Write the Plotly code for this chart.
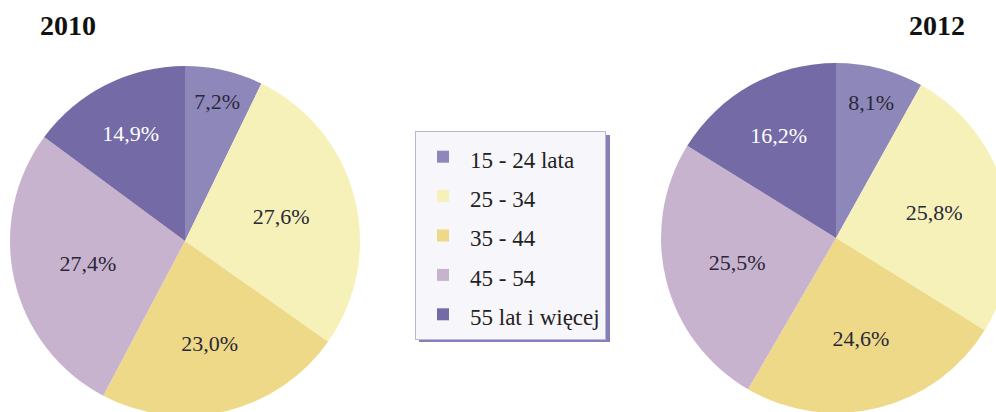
import plotly.graph_objects as go

categories = ["15 - 24 lata", "25 - 34", "35 - 44", "45 - 54", "55 lat i więcej"]
values_2010 = [7.2, 27.6, 23.0, 27.4, 14.9]
values_2012 = [8.1, 25.8, 24.6, 25.5, 16.2]
years = ["2010", "2012"]

colors = ["#8E88BA", "#F6F1B9", "#EDD987", "#C8B3CE", "#736AA6"]
text_colors = ["#2A2838", "#2A2838", "#2A2838", "#2A2838", "#FFFFFF"]

SERIF = "Liberation Serif, Times New Roman, serif"
W, H = 1012, 416


def fmt(v):
    return f"{v:.1f}".replace(".", ",") + "%"


def px_x(x):
    return x / W


def px_y(y):
    return 1 - y / H


fig = go.Figure()

domains = [
    dict(x=[px_x(10), px_x(360)], y=[px_y(416), px_y(66)]),
    dict(x=[px_x(661), px_x(1011)], y=[px_y(413), px_y(63)]),
]

for i, vals in enumerate([values_2010, values_2012]):
    fig.add_trace(go.Pie(
        labels=[f"<span style='font-size:23px'>{c}</span>" for c in categories],
        values=vals,
        text=[fmt(v) for v in vals],
        textinfo="text",
        textposition="inside",
        insidetextorientation="horizontal",
        textfont=dict(family=SERIF, size=22),
        insidetextfont=dict(family=SERIF, size=22, color=text_colors),
        marker=dict(colors=colors, line=dict(width=0)),
        sort=False,
        direction="clockwise",
        rotation=0,
        domain=domains[i],
        showlegend=(i == 0),
        hoverinfo="label+percent",
    ))

for yr, xc in zip(years, [68, 937]):
    fig.add_annotation(x=px_x(xc), y=px_y(25), xref="paper", yref="paper",
                       text=f"<b>{yr}</b>", showarrow=False,
                       font=dict(family=SERIF, size=28, color="#111111"),
                       xanchor="center", yanchor="middle")

# legend shadow
fig.add_shape(type="rect", xref="paper", yref="paper",
              x0=px_x(419), x1=px_x(610), y0=px_y(342), y1=px_y(135),
              fillcolor="#8581B8", line=dict(width=0), layer="below")

fig.update_layout(
    width=W, height=H,
    margin=dict(l=0, r=0, t=0, b=0),
    paper_bgcolor="white",
    plot_bgcolor="white",
    font=dict(family=SERIF, color="#222222"),
    legend=dict(
        x=px_x(415), y=px_y(131), xanchor="left", yanchor="top",
        font=dict(family=SERIF, size=28, color="#222222"),
        bgcolor="#F7F6FB",
        bordercolor="#B9B7D6",
        borderwidth=1,
        itemwidth=44,
    ),
)

fig.write_html("out.html",
               config={"displayModeBar": False},
               post_script="document.body.style.margin='0';document.body.style.overflow='hidden';")
